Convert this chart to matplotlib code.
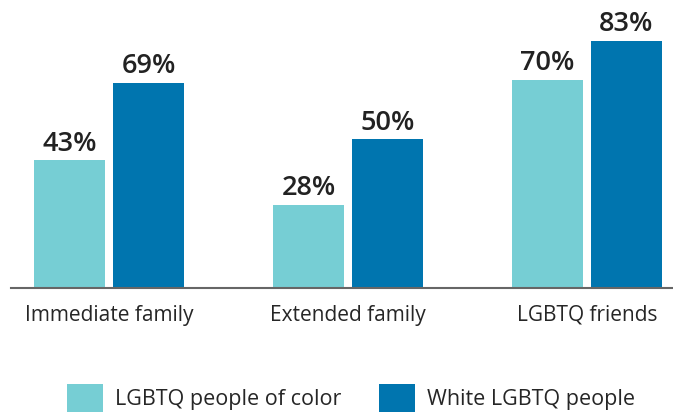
import numpy as np
import matplotlib.pyplot as plt

plt.rcParams['font.family'] = ['Open Sans', 'DejaVu Sans']

categories = ['Immediate family', 'Extended family', 'LGBTQ friends']
poc = [43, 28, 70]
white = [69, 50, 83]
series_names = ['LGBTQ people of color', 'White LGBTQ people']
colors = ['#76CED4', '#0075AF']

fig = plt.figure(figsize=(6.73, 4.13), dpi=100)
ax = fig.add_axes([11/673, 125/413, 662/673, 288/413])

x = np.arange(len(categories))
w = 71/239
off = 79/2/239
b1 = ax.bar(x - off, poc, w, color=colors[0], label=series_names[0])
b2 = ax.bar(x + off, white, w, color=colors[1], label=series_names[1])

for bars, vals in [(b1, poc), (b2, white)]:
    for r, v in zip(bars, vals):
        ax.text(r.get_x() + r.get_width()/2, v + 3.2, f'{v}%', ha='center', va='baseline',
                fontsize=19.5, fontweight='semibold', color='#222222')

ax.set_xlim((11-109)/239, (673-109)/239)
ax.set_ylim(0, 288/2.976)
ax.set_xticks(x)
ax.set_xticklabels(categories, fontsize=15, color='#262626')
ax.tick_params(axis='x', length=0, pad=12)
ax.set_yticks([])
for s in ['top', 'right', 'left']:
    ax.spines[s].set_visible(False)
ax.spines['bottom'].set_color('#666666')
ax.spines['bottom'].set_linewidth(1.5)

fig.legend(loc='center', bbox_to_anchor=(351/673, 1 - 398/413), ncol=2, frameon=False,
           fontsize=15.5, handlelength=1.67, handleheight=1.67, handletextpad=0.56,
           columnspacing=1.77, labelcolor='#262626', borderpad=0, borderaxespad=0)

fig.savefig('out.png', dpi=100)
